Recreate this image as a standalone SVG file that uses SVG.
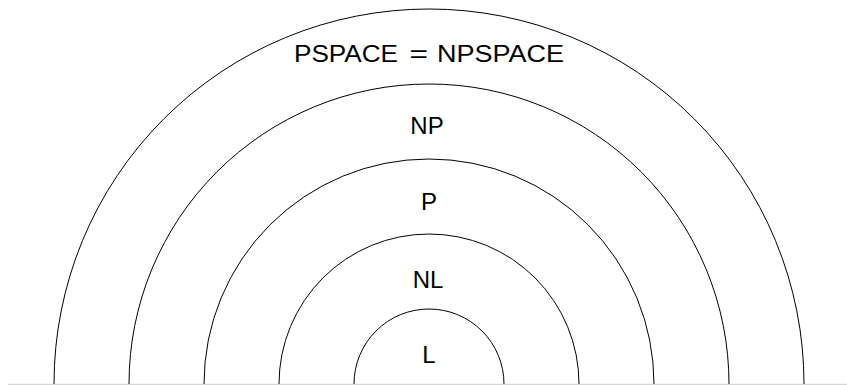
<svg xmlns="http://www.w3.org/2000/svg" width="847" height="385" viewBox="0 0 847 385">
<style>
.arc{fill:none;stroke:#000;stroke-width:1}
.lbl{font-family:"Liberation Sans",Arial,sans-serif;font-size:24px;fill:#000;text-anchor:middle}
.ls{text-anchor:start}
</style>
<rect width="847" height="385" fill="#fff"/>
<line x1="8" y1="384.5" x2="847" y2="384.5" stroke="#d6d6d6" stroke-width="1.5"/>
<g id="PSPACE">
<path class="arc" d="M54,384 A375,375 0 0 1 804,384"/>
<text class="lbl ls" x="294" y="62" textLength="104" lengthAdjust="spacingAndGlyphs">PSPACE</text>
<text class="lbl ls" x="409.5" y="62" textLength="18.5" lengthAdjust="spacingAndGlyphs">=</text>
<text class="lbl ls" x="437" y="62" textLength="127" lengthAdjust="spacingAndGlyphs">NPSPACE</text>
</g>
<g id="NP">
<path class="arc" d="M129,384 A300,300 0 0 1 729,384"/>
<text class="lbl" x="427" y="134">NP</text>
</g>
<g id="P">
<path class="arc" d="M204,384 A225,225 0 0 1 654,384"/>
<text class="lbl" x="429" y="210">P</text>
</g>
<g id="NL">
<path class="arc" d="M279,384 A150,150 0 0 1 579,384"/>
<text class="lbl" x="428" y="288">NL</text>
</g>
<g id="L">
<path class="arc" d="M354,384 A75,75 0 0 1 504,384"/>
<text class="lbl" x="429" y="363">L</text>
</g>
<g id="connectors"></g>
</svg>
